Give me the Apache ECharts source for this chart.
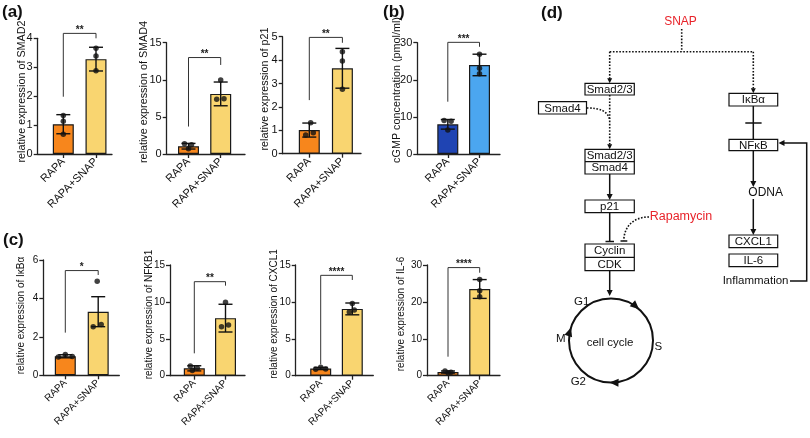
<!DOCTYPE html>
<html><head><meta charset="utf-8">
<script src="https://cdn.jsdelivr.net/npm/echarts@6/dist/echarts.min.js"></script>
<style>html,body{margin:0;padding:0;background:#fff}#c{width:810px;height:438px}</style>
</head><body><div id="c"></div>
<script>
const categories = ['RAPA', 'RAPA+SNAP'];

// (a) relative expression
const smad2Mean = [1.03, 3.28];
const smad2SD = [0.33, 0.41];
const smad2Dots = [[1.33, 1.13, 0.68], [3.66, 3.39, 2.88]];
const smad2Bracket = [4.17, 1.98, 4.0];

const smad4Mean = [1.05, 8.1];
const smad4SD = [0.38, 1.6];
const smad4Dots = [[1.38, 1.25, 0.72], [9.97, 7.37, 7.45]];
const smad4Bracket = [13.0, 3.7, 12.0];

const p21Mean = [1.01, 3.65];
const p21SD = [0.3, 0.85];
const p21Dots = [[1.32, 0.8, 0.9], [4.36, 3.96, 2.75]];
const p21Bracket = [4.97, 2.29, 4.74];

// (b) cGMP concentration
const cgmpMean = [8.0, 24.0];
const cgmpSD = [1.3, 2.9];
const cgmpDots = [[9.0, 8.8, 6.5], [26.9, 23.1, 21.6]];
const cgmpBracket = [30.1, 14.1, 28.9];

// (c) relative expression
const ikbaMean = [0.99, 3.31];
const ikbaSD = [0.08, 0.78];
const ikbaDots = [[0.95, 1.08, 0.98], [4.9, 2.53, 2.65]];
const ikbaBracket = [5.45, 2.22, 5.22];

const nfkb1Mean = [1.0, 7.8];
const nfkb1SD = [0.35, 1.88];
const nfkb1Dots = [[1.3, 1.0, 0.7], [9.94, 6.64, 6.87]];
const nfkb1Bracket = [12.74, 3.03, 12.2];

const cxcl1Mean = [0.98, 9.05];
const cxcl1SD = [0.15, 0.8];
const cxcl1Dots = [[1.15, 0.88, 0.9], [9.8, 8.63, 8.9]];
const cxcl1Bracket = [13.6, 1.54, 12.97];

const il6Mean = [1.0, 23.5];
const il6SD = [0.28, 2.55];
const il6Dots = [[1.25, 0.95, 0.8], [26.1, 23.0, 21.4]];
const il6Bracket = [29.3, 5.15, 27.9];

const sigLabels = ['**', '**', '**', '***', '*', '**', '****', '****'];
const yMax = [4, 15, 5, 30, 6, 15, 15, 30];
const yStep = [1, 5, 1, 10, 2, 5, 5, 10];
const yTitles = [
  'relative expression of SMAD2', 'relative expression of SMAD4', 'relative expression of p21',
  'cGMP concentration (pmol/ml)',
  'relative expression of IκBα', 'relative expression of NFKB1', 'relative expression of CXCL1', 'relative expression of IL-6'
];

const panelData = [
  {mean: smad2Mean, sd: smad2SD, dots: smad2Dots, br: smad2Bracket},
  {mean: smad4Mean, sd: smad4SD, dots: smad4Dots, br: smad4Bracket},
  {mean: p21Mean, sd: p21SD, dots: p21Dots, br: p21Bracket},
  {mean: cgmpMean, sd: cgmpSD, dots: cgmpDots, br: cgmpBracket},
  {mean: ikbaMean, sd: ikbaSD, dots: ikbaDots, br: ikbaBracket},
  {mean: nfkb1Mean, sd: nfkb1SD, dots: nfkb1Dots, br: nfkb1Bracket},
  {mean: cxcl1Mean, sd: cxcl1SD, dots: cxcl1Dots, br: cxcl1Bracket},
  {mean: il6Mean, sd: il6SD, dots: il6Dots, br: il6Bracket}
];

// ---------- layout / styles ----------
const FONT = "'Liberation Sans', Arial, sans-serif";
const AX = '#222';
const ORANGE = ['#F7861C', '#F9D570'];
const BLUE = ['#1F44B3', '#4BA6F0'];
const layout = [
  {ax: 37.7, c1: 63.3, c2: 96, end: 112, top: 38.3, zero: 154, gap: 10, lc: 91.5, fs: 11, nfs: 10.8, col: ORANGE, jit: [[0,0,0],[0,0,0]]},
  {ax: 166.7, c1: 188.5, c2: 220.7, end: 245, top: 42.7, zero: 154, gap: 17.5, lc: 92, fs: 11, nfs: 10.8, col: ORANGE, jit: [[-4,3,0],[0,-4,3.3]]},
  {ax: 282.7, c1: 309.3, c2: 342.4, end: 361, top: 36.7, zero: 153.7, gap: 12, lc: 89, fs: 11, nfs: 10.8, col: ORANGE, jit: [[1.4,-3.6,4],[0,0,0]]},
  {ax: 417.3, c1: 447.8, c2: 479.5, end: 500, top: 42.7, zero: 154, gap: 15, lc: 90, fs: 11, nfs: 10.8, col: BLUE, jit: [[-3.7,3.3,0],[0,0,0]]},
  {ax: 43.3, c1: 65.3, c2: 98.2, end: 119.3, top: 260, zero: 375.3, gap: 17.5, lc: 315.5, fs: 10, nfs: 10, col: ORANGE, jit: [[-7,0,7],[-1,-5,3]]},
  {ax: 170, c1: 194.3, c2: 225.5, end: 245, top: 265, zero: 375.7, gap: 16, lc: 314.5, fs: 10, nfs: 10, col: ORANGE, jit: [[-4,3,-2],[0,-4,3]]},
  {ax: 295.7, c1: 320.7, c2: 352.3, end: 373.3, top: 265, zero: 375.7, gap: 16, lc: 314, fs: 10, nfs: 10, col: ORANGE, jit: [[0,-5,5],[0,-3,2]]},
  {ax: 427, c1: 448, c2: 479.7, end: 500, top: 265, zero: 375.7, gap: 21, lc: 314, fs: 10, nfs: 10, col: ORANGE, jit: [[-3,3,0],[0,0,0]]}
];

const option = {
  animation: false,
  backgroundColor: '#fff',
  textStyle: {fontFamily: FONT},
  grid: [], xAxis: [], yAxis: [], series: [],
  graphic: {elements: []}
};

panelData.forEach((p, i) => {
  const L = layout[i];
  const unit = L.c2 - L.c1;
  const xmin = 1 - (L.c1 - L.ax) / unit;
  const xmax = 2 + (L.end - L.c2) / unit;
  option.grid.push({left: L.ax, top: L.top, width: L.end - L.ax, height: L.zero - L.top, outerBoundsMode: 'none', containLabel: false});
  option.xAxis.push({
    type: 'value', gridIndex: i, min: xmin, max: xmax,
    splitLine: {show: false},
    axisLine: {show: true, onZero: false, lineStyle: {color: AX, width: 1.3}},
    axisTick: {show: true, customValues: [1, 2], length: 4, lineStyle: {color: AX, width: 1.3}},
    axisLabel: {show: true, customValues: [1, 2], formatter: v => categories[Math.round(v) - 1] || '', rotate: 45, margin: 6, fontSize: L.fs, color: '#111', fontFamily: FONT}
  });
  const shift = (L.top + L.zero) / 2 - L.lc;
  option.yAxis.push({
    type: 'value', gridIndex: i, min: 0, max: yMax[i], interval: yStep[i],
    name: yTitles[i], nameLocation: 'middle', nameGap: L.gap, nameMoveOverlap: false,
    nameTextStyle: {fontSize: L.nfs, color: '#111', fontFamily: FONT, padding: shift > 0 ? [0, 0, 0, 2 * shift] : [0, -2 * shift, 0, 0]},
    splitLine: {show: false},
    axisLine: {show: true, onZero: false, lineStyle: {color: AX, width: 1.3}},
    axisTick: {show: true, length: 4, lineStyle: {color: AX, width: 1.3}},
    axisLabel: {fontSize: L.fs, color: '#111', margin: 5, fontFamily: FONT}
  });
  // bars
  option.series.push({
    type: 'bar', xAxisIndex: i, yAxisIndex: i, barWidth: 21, z: 2,
    data: p.mean.map((m, k) => ({value: [k + 1, m], itemStyle: {color: L.col[k], borderColor: '#1a1a1a', borderWidth: 1.2}}))
  });
  // error bars
  option.series.push({
    type: 'custom', xAxisIndex: i, yAxisIndex: i, z: 3,
    data: p.mean.map((m, k) => [k + 1, m - p.sd[k], m + p.sd[k]]),
    renderItem: (params, api) => {
      const lo = api.coord([api.value(0), api.value(1)]);
      const hi = api.coord([api.value(0), api.value(2)]);
      const hw = 7;
      const st = {stroke: '#111', lineWidth: 1.4};
      return {type: 'group', children: [
        {type: 'line', shape: {x1: lo[0], y1: lo[1], x2: hi[0], y2: hi[1]}, style: st},
        {type: 'line', shape: {x1: lo[0] - hw, y1: lo[1], x2: lo[0] + hw, y2: lo[1]}, style: st},
        {type: 'line', shape: {x1: hi[0] - hw, y1: hi[1], x2: hi[0] + hw, y2: hi[1]}, style: st}
      ]};
    }
  });
  // dots
  const dotData = [];
  p.dots.forEach((arr, k) => arr.forEach((v, j) => dotData.push([k + 1 + L.jit[k][j] / unit, v])));
  option.series.push({
    type: 'scatter', xAxisIndex: i, yAxisIndex: i, z: 4, symbolSize: 5.5,
    itemStyle: {color: '#111'}, data: dotData
  });
  // significance bracket
  const stars = sigLabels[i];
  option.series.push({
    type: 'custom', xAxisIndex: i, yAxisIndex: i, z: 3,
    data: [[1, 2, p.br[0], p.br[1], p.br[2]]],
    renderItem: (params, api) => {
      const a = api.coord([api.value(0), api.value(3)]);
      const b = api.coord([api.value(0), api.value(2)]);
      const c = api.coord([api.value(1), api.value(2)]);
      const d = api.coord([api.value(1), api.value(4)]);
      return {type: 'group', children: [
        {type: 'polyline', shape: {points: [a, b, c, d]}, style: {stroke: '#333', lineWidth: 1, fill: null}},
        {type: 'text', x: (b[0] + c[0]) / 2, y: b[1] + 2, style: {text: stars, align: 'center', verticalAlign: 'bottom', font: 'bold 10px ' + FONT, fill: '#222'}}
      ]};
    }
  });
});

// ---------- panel letters & pathway diagram ----------
const G = option.graphic.elements;
const INK = '#111';
const RED = '#E8232A';
function txt(text, x, y, o = {}) {
  G.push({type: 'text', x, y, z: 10, style: {text, align: o.align || 'center', verticalAlign: 'middle',
    font: (o.bold ? 'bold ' : '') + (o.size || 11.5) + 'px ' + FONT, fill: o.color || INK}});
}
function line(x1, y1, x2, y2, dash, w) {
  G.push({type: 'line', z: 10, shape: {x1, y1, x2, y2}, style: {stroke: INK, lineWidth: w || (dash ? 1.6 : 1.5), lineDash: dash ? [1.6, 1.6] : null}});
}
function head(x, y, ux, uy, len, hw) {
  const bx = x - ux * len, by = y - uy * len;
  G.push({type: 'polygon', z: 10, shape: {points: [[x, y], [bx - uy * hw, by + ux * hw], [bx + uy * hw, by - ux * hw]]}, style: {fill: INK}});
}
function arrow(x1, y1, x2, y2, dash, len = 6, hw = 3) {
  const n = Math.hypot(x2 - x1, y2 - y1), ux = (x2 - x1) / n, uy = (y2 - y1) / n;
  line(x1, y1, x2 - ux * len * 0.7, y2 - uy * len * 0.7, dash);
  head(x2, y2, ux, uy, len, hw);
}
function box(x, y, w, h, labels) {
  G.push({type: 'rect', z: 9, shape: {x, y, width: w, height: h}, style: {fill: '#fff', stroke: INK, lineWidth: 1.2}});
  const hh = h / labels.length;
  labels.forEach((t, k) => {
    if (k > 0) line(x, y + hh * k, x + w, y + hh * k, false, 1.2);
    txt(t, x + w / 2, y + hh * k + hh / 2 + 0.5);
  });
}

txt('(a)', 2, 12, {align: 'left', bold: true, size: 17});
txt('(b)', 383, 12, {align: 'left', bold: true, size: 17});
txt('(c)', 3, 240, {align: 'left', bold: true, size: 17});
txt('(d)', 541, 13, {align: 'left', bold: true, size: 17});

// SNAP branches
txt('SNAP', 680.5, 21.7, {color: RED, size: 12});
line(681.7, 29, 681.7, 51.7, true);
line(609.7, 51.7, 753.3, 51.7, true);
arrow(609.7, 51.7, 609.7, 83.3, true, 5, 2.5);
arrow(753.3, 51.7, 753.3, 93.3, true, 5, 2.5);

// left branch
box(585, 83.3, 49.3, 11.7, ['Smad2/3']);
box(538.5, 101.7, 48, 12.3, ['Smad4']);
arrow(609.7, 95, 609.7, 149.3, true, 5, 2.5);
G.push({type: 'bezierCurve', z: 10, shape: {x1: 586.7, y1: 108, cpx1: 600, cpy1: 108, cpx2: 608, cpy2: 111, x2: 609.7, y2: 120},
  style: {stroke: INK, lineWidth: 1.6, lineDash: [1.6, 1.6], fill: null}});
box(585, 149.3, 49.3, 24.7, ['Smad2/3', 'Smad4']);
arrow(609.7, 174, 609.7, 200, false);
box(585, 200, 49.3, 12.7, ['p21']);
line(609.7, 212.7, 609.7, 241.5);
line(605.5, 241.5, 614, 241.5);
txt('Rapamycin', 681, 216.7, {color: RED, size: 12.5});
G.push({type: 'bezierCurve', z: 10, shape: {x1: 649, y1: 217, cpx1: 632, cpy1: 217, cpx2: 624, cpy2: 228, x2: 623.8, y2: 240.5},
  style: {stroke: INK, lineWidth: 1.6, lineDash: [1.6, 1.6], fill: null}});
line(620.5, 241, 627.3, 241);
box(585, 244, 49.3, 26.7, ['Cyclin', 'CDK']);
arrow(609.7, 270.7, 609.7, 296, false);

// cell cycle
const cc = {x: 611, y: 340.5, r: 42};
G.push({type: 'circle', z: 10, shape: {cx: cc.x, cy: cc.y, r: cc.r}, style: {fill: 'none', stroke: INK, lineWidth: 2}});
[-48, 92, 198].forEach(deg => {
  const t = deg * Math.PI / 180;
  head(cc.x + cc.r * Math.cos(t), cc.y + cc.r * Math.sin(t), -Math.sin(t), Math.cos(t), 9, 4);
});
txt('G1', 581.7, 301.7);
txt('S', 658.3, 346.7);
txt('G2', 578.3, 381.7);
txt('M', 560.7, 339.3);
txt('cell cycle', 610, 342.7);

// right branch
box(729, 93.3, 48.7, 12.7, ['IκBα']);
line(753.3, 106, 753.3, 139.3);
line(745.3, 123, 761.6, 123);
box(729, 139.3, 48.7, 11.4, ['NFκB']);
arrow(753.3, 150.7, 753.3, 187, false);
txt('ODNA', 748.3, 192.9, {align: 'left', size: 12});
arrow(753.3, 199, 753.3, 235, false);
box(729, 235, 48.7, 12.7, ['CXCL1']);
box(729, 254, 48.7, 12.7, ['IL-6']);
txt('Inflammation', 788.5, 281, {align: 'right'});
G.push({type: 'polyline', z: 10, shape: {points: [[790, 281], [806.7, 281], [806.7, 143], [783, 143]]}, style: {stroke: INK, lineWidth: 1.5, fill: null}});
head(778.5, 143, -1, 0, 6, 3);

const chart = echarts.init(document.getElementById('c'), null, {renderer: 'canvas'});
chart.setOption(option);
</script>
</body></html>
